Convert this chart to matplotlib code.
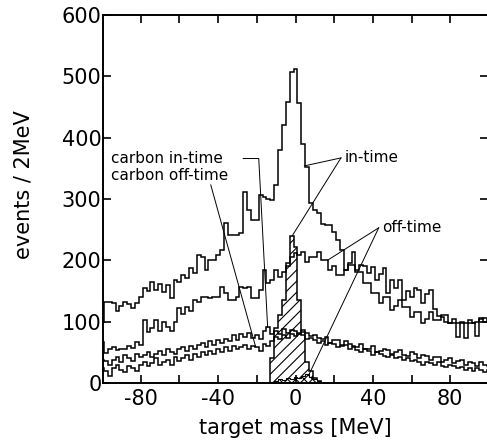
import matplotlib
matplotlib.use("Agg")
import matplotlib.pyplot as plt
import numpy as np
from matplotlib.ticker import MultipleLocator

plt.rcParams['font.family'] = 'DejaVu Sans'
plt.rcParams['axes.unicode_minus'] = False
plt.rcParams['hatch.linewidth'] = 0.8

# 2 MeV bins, centres -100 ... 100
centers = np.arange(-100, 101, 2)
edges = np.arange(-101, 102, 2)

in_time = [100, 132, 132, 130, 118, 125, 132, 128, 122, 130,
           140, 155, 150, 165, 152, 162, 148, 160, 138, 168,
           165, 176, 172, 187, 180, 209, 205, 184, 200, 200,
           208, 217, 261, 241, 241, 241, 245, 311, 282, 266,
           266, 306, 303, 300, 298, 323, 380, 421, 458, 507,
           512, 456, 390, 352, 293, 282, 277, 260, 258, 258,
           246, 233, 217, 184, 196, 214, 184, 192, 190, 179,
           189, 168, 178, 187, 147, 168, 155, 168, 135, 150,
           141, 155, 152, 130, 145, 152, 120, 110, 108, 100,
           98, 104, 98, 100, 98, 102, 98, 100, 104, 106, 106]

off_time = [67, 49, 55, 58, 53, 56, 55, 60, 57, 67,
            62, 103, 83, 90, 103, 85, 100, 92, 85, 100,
            122, 113, 124, 118, 136, 132, 140, 140, 138, 141,
            141, 157, 147, 136, 136, 140, 157, 155, 157, 139,
            139, 151, 184, 163, 168, 184, 173, 181, 196, 205,
            212, 208, 214, 198, 206, 206, 214, 200, 200, 184,
            190, 176, 176, 185, 192, 192, 181, 181, 163, 163,
            147, 147, 130, 141, 141, 119, 125, 136, 124, 124,
            108, 115, 115, 98, 105, 115, 103, 103, 111, 111,
            98, 98, 75, 98, 73, 98, 98, 76, 106, 100, 104]

carbon_in = [38, 36, 30, 38, 42, 35, 45, 40, 36, 48,
             42, 45, 50, 42, 48, 52, 45, 55, 50, 48,
             55, 58, 52, 60, 55, 62, 65, 58, 68, 62,
             70, 65, 72, 68, 78, 70, 80, 75, 82, 74,
             78, 72, 85, 92, 80, 84, 80, 88, 82, 86,
             84, 80, 86, 82, 76, 78, 74, 72, 75, 66,
             70, 70, 62, 68, 64, 60, 58, 64, 56, 55,
             60, 50, 52, 56, 54, 47, 50, 54, 46, 44,
             50, 48, 40, 46, 44, 38, 42, 42, 35, 38,
             40, 33, 36, 38, 30, 34, 32, 28, 34, 30, 28]

carbon_off = [24, 20, 12, 25, 30, 22, 18, 28, 25, 20,
              30, 35, 28, 32, 40, 30, 35, 38, 30, 42,
              36, 40, 45, 38, 48, 42, 50, 45, 52, 48,
              55, 50, 58, 52, 60, 55, 58, 62, 55, 60,
              58, 52, 64, 60, 68, 75, 72, 78, 74, 80,
              76, 82, 78, 72, 74, 70, 66, 68, 62, 66,
              64, 58, 60, 62, 55, 58, 54, 50, 56, 52,
              46, 50, 48, 44, 42, 46, 40, 42, 38, 40,
              36, 38, 34, 30, 35, 32, 30, 34, 28, 26,
              30, 28, 24, 26, 22, 25, 20, 24, 22, 18, 22]

# narrow peaks around zero
peak_centers = np.arange(-12, 13, 2)
peak_edges = np.arange(-13, 14, 2)
hatched_peak = [40, 90, 111, 135, 190, 240, 222, 135, 83, 35, 20, 8, 3]
cross_peak = [2, 3, 6, 5, 8, 6, 10, 8, 12, 15, 10, 6, 3]

fig = plt.figure(figsize=(4.87, 4.44), dpi=100)
ax = fig.add_axes([103 / 487, 61 / 444, 385 / 487, 368 / 444])

lw = 1.1
ax.stairs(in_time, edges, color='black', lw=lw)
ax.stairs(off_time, edges, color='black', lw=lw)
ax.stairs(carbon_in, edges, color='black', lw=lw)
ax.stairs(carbon_off, edges, color='black', lw=lw)
ax.stairs(hatched_peak, peak_edges, fill=True, facecolor='none',
          edgecolor='black', hatch='///', lw=lw)
ax.stairs(cross_peak, peak_edges, fill=True, facecolor='white',
          edgecolor='black', hatch='xxxx', lw=0.8)

# labels with pointer lines
tl = dict(color='black', lw=0.7)
ax.text(-95.5, 366, 'carbon in-time', fontsize=11, va='center')
ax.plot([-27, -19, -14.4], [366, 366, 91], **tl)
ax.text(-95.5, 339, 'carbon off-time', fontsize=11, va='center')
ax.plot([-43.8, -20.6], [323, 59], **tl)

ax.text(25.5, 367, 'in-time', fontsize=11, va='center')
ax.plot([23.5, 4.6], [367, 354], **tl)
ax.plot([23.5, -1.5], [367, 241], **tl)

ax.text(45, 254, 'off-time', fontsize=11, va='center')
ax.plot([43, 16.5], [253, 200], **tl)
ax.plot([43, 7], [253, 14], **tl)

ax.set_xlim(-99.5, 99.5)
ax.set_ylim(0, 600)
ax.xaxis.set_major_locator(MultipleLocator(40))
ax.xaxis.set_minor_locator(MultipleLocator(20))
ax.yaxis.set_major_locator(MultipleLocator(100))
ax.tick_params(which='both', direction='in', top=True, right=True,
               length=6, width=1.2, labelsize=15)
ax.tick_params(axis='y', pad=1)
ax.tick_params(axis='x', pad=4)
for s in ax.spines.values():
    s.set_linewidth(1.4)

ax.set_xlabel('target mass [MeV]', fontsize=15)
ax.set_ylabel('events / 2MeV', fontsize=15)
ax.xaxis.set_label_coords(0.5, -0.095)
ax.yaxis.set_label_coords(-0.18, 0.54)

fig.savefig('out.png', dpi=100)
